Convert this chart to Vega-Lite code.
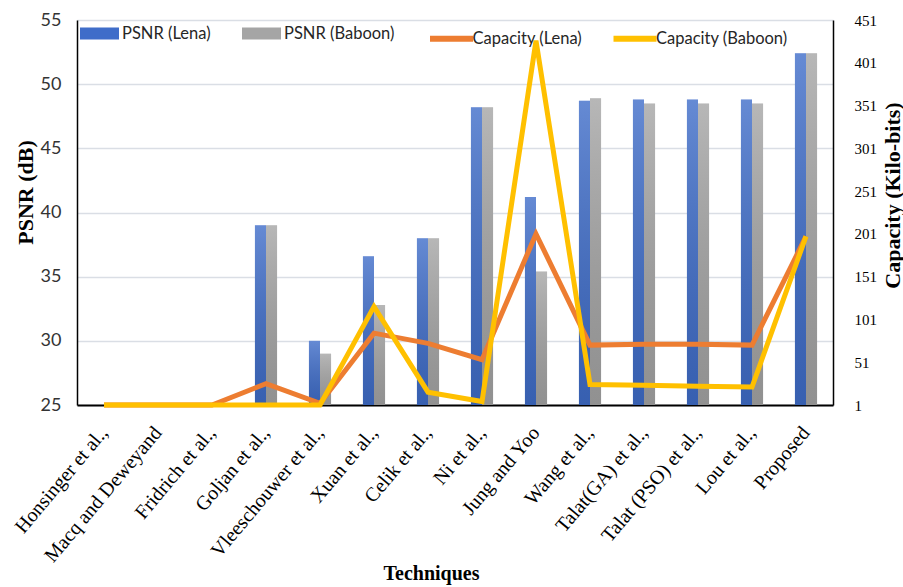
{
  "$schema": "https://vega.github.io/schema/vega-lite/v6.json",
  "autosize": "none",
  "width": 756,
  "height": 385,
  "padding": {"left": 77, "top": 20, "right": 70, "bottom": 182},
  "background": "white",
  "config": {"view": {"stroke": null}},
  "data": {"values": [
    {"technique": "Honsinger et al.,", "psnr_lena": null, "psnr_baboon": null, "cap_lena": 1, "cap_baboon": 1},
    {"technique": "Macq and Deweyand", "psnr_lena": null, "psnr_baboon": null, "cap_lena": 1, "cap_baboon": 1},
    {"technique": "Fridrich et al.,", "psnr_lena": null, "psnr_baboon": null, "cap_lena": 1, "cap_baboon": 1},
    {"technique": "Goljan et al.,", "psnr_lena": 39, "psnr_baboon": 39, "cap_lena": 26, "cap_baboon": 1},
    {"technique": "Vleeschouwer et al.,", "psnr_lena": 30, "psnr_baboon": 29, "cap_lena": 3, "cap_baboon": 1},
    {"technique": "Xuan et al.,", "psnr_lena": 36.6, "psnr_baboon": 32.8, "cap_lena": 85, "cap_baboon": 116},
    {"technique": "Celik et al.,", "psnr_lena": 38, "psnr_baboon": 38, "cap_lena": 73, "cap_baboon": 16},
    {"technique": "Ni et al.,", "psnr_lena": 48.2, "psnr_baboon": 48.2, "cap_lena": 54, "cap_baboon": 5},
    {"technique": "Jung and Yoo", "psnr_lena": 41.2, "psnr_baboon": 35.4, "cap_lena": 201, "cap_baboon": 427},
    {"technique": "Wang et al.,", "psnr_lena": 48.7, "psnr_baboon": 48.9, "cap_lena": 71, "cap_baboon": 25},
    {"technique": "Talat(GA) et al.,", "psnr_lena": 48.8, "psnr_baboon": 48.5, "cap_lena": 72, "cap_baboon": 24},
    {"technique": "Talat (PSO) et al.,", "psnr_lena": 48.8, "psnr_baboon": 48.5, "cap_lena": 72, "cap_baboon": 23},
    {"technique": "Lou et al.,", "psnr_lena": 48.8, "psnr_baboon": 48.5, "cap_lena": 71, "cap_baboon": 22},
    {"technique": "Proposed", "psnr_lena": 52.4, "psnr_baboon": 52.4, "cap_lena": 198, "cap_baboon": 198}
  ]},
  "encoding": {
    "x": {
      "field": "technique", "type": "nominal", "sort": null,
      "scale": {
        "domain": ["Honsinger et al.,", "Macq and Deweyand", "Fridrich et al.,", "Goljan et al.,", "Vleeschouwer et al.,", "Xuan et al.,", "Celik et al.,", "Ni et al.,", "Jung and Yoo", "Wang et al.,", "Talat(GA) et al.,", "Talat (PSO) et al.,", "Lou et al.,", "Proposed"],
        "paddingInner": 0.59, "paddingOuter": 0.295
      },
      "axis": {
        "title": "Techniques", "titleFont": "Liberation Serif", "titleFontSize": 20, "titleFontWeight": "bold", "titleColor": "black",
        "titleX": 354, "titleY": 174, "titleAlign": "center", "titleBaseline": "alphabetic",
        "labelAngle": -50, "labelFont": "Liberation Serif", "labelFontSize": 20, "labelColor": "black", "labelPadding": 24,
        "ticks": false, "domainColor": "black", "domainWidth": 2, "grid": false, "labelLimit": 300
      }
    }
  },
  "layer": [
    {
      "transform": [{"fold": ["psnr_lena", "psnr_baboon"], "as": ["series", "psnr"]}],
      "encoding": {
        "xOffset": {"field": "series", "type": "nominal", "sort": null, "scale": {"domain": ["psnr_lena", "psnr_baboon"], "paddingInner": 0, "paddingOuter": 0}},
        "y": {
          "field": "psnr", "type": "quantitative",
          "scale": {"domain": [25, 55], "zero": false, "nice": false},
          "axis": {
            "orient": "left", "values": [25, 30, 35, 40, 45, 50, 55],
            "title": "PSNR (dB)", "titleFont": "Liberation Serif", "titleFontSize": 22, "titleFontWeight": "bold", "titleColor": "black",
            "titleAngle": -90, "titleX": -52, "titleY": 172, "titleAlign": "center", "titleBaseline": "middle",
            "labelFont": "Lato", "labelFontSize": 18, "labelColor": "#333333", "labelPadding": 16,
            "ticks": false, "domainColor": "black", "domainWidth": 1.5,
            "grid": true, "gridColor": "#dadee5", "gridWidth": 1.5
          }
        },
        "y2": {"datum": 25}
      },
      "layer": [
        {
          "mark": {"type": "bar"},
          "encoding": {
            "fill": {
              "field": "series", "type": "nominal",
              "scale": {"domain": ["psnr_lena", "psnr_baboon"], "range": ["#3f6dc9", "#a5a5a5"]},
              "legend": {
                "orient": "none", "legendX": 3, "legendY": -6, "direction": "horizontal", "title": null,
                "symbolType": "M-1,-0.3077H1V0.3077H-1Z", "symbolSize": 1521, "symbolStrokeWidth": 0,
                "labelFont": "Lato", "labelFontSize": 16.5, "labelColor": "#262626", "labelOffset": 3,
                "columnPadding": 31, "padding": 0,
                "labelExpr": "datum.label == 'psnr_lena' ? 'PSNR (Lena)' : 'PSNR (Baboon)'"
              }
            }
          }
        },
        {
          "mark": {"type": "bar", "fill": {"gradient": "linear", "x1": 0, "y1": 0, "x2": 0, "y2": 1, "stops": [{"offset": 0, "color": "rgba(255,255,255,0.2)"}, {"offset": 1, "color": "rgba(0,0,0,0.12)"}]}},
          "encoding": {}
        }
      ]
    },
    {
      "transform": [{"fold": ["cap_lena", "cap_baboon"], "as": ["cseries", "capacity"]}],
      "mark": {"type": "line", "strokeWidth": 5},
      "encoding": {
        "y": {
          "field": "capacity", "type": "quantitative",
          "scale": {"domain": [1, 451], "zero": false, "nice": false},
          "axis": {
            "orient": "right", "values": [1, 51, 101, 151, 201, 251, 301, 351, 401, 451],
            "title": "Capacity (Kilo-bits)", "titleFont": "Liberation Serif", "titleFontSize": 22, "titleFontWeight": "bold", "titleColor": "black",
            "titleAngle": -90, "titleX": 59, "titleY": 175, "titleAlign": "center", "titleBaseline": "middle",
            "labelFont": "Liberation Serif", "labelFontSize": 15, "labelColor": "black", "labelPadding": 21,
            "ticks": false, "domainColor": "black", "domainWidth": 1.5, "grid": false
          }
        },
        "stroke": {
          "field": "cseries", "type": "nominal",
          "scale": {"domain": ["cap_lena", "cap_baboon"], "range": ["#ed7d31", "#ffc000"]},
          "legend": {
            "orient": "none", "legendX": 350, "legendY": -6, "direction": "horizontal", "title": null,
            "symbolType": "stroke", "symbolSize": 1849, "symbolStrokeWidth": 6,
            "labelFont": "Lato", "labelFontSize": 16.5, "labelColor": "#262626", "labelOffset": -3.5,
            "columnPadding": 18.5, "padding": 0,
            "labelExpr": "datum.label == 'cap_lena' ? 'Capacity (Lena)' : 'Capacity (Baboon)'"
          }
        }
      }
    }
  ],
  "resolve": {"scale": {"y": "independent", "fill": "independent", "stroke": "independent"}}
}
